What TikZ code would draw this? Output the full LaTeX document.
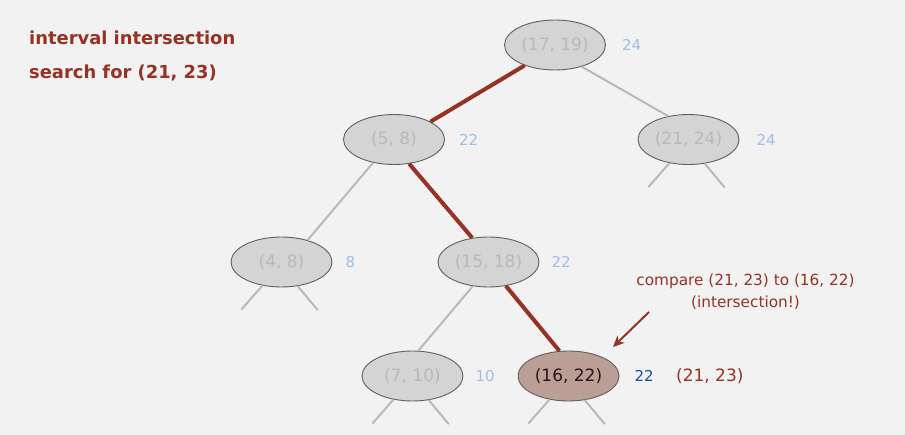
\documentclass[tikz,border=0pt]{standalone}
\usepackage{fontspec}
\setmainfont{DejaVu Sans}
\usetikzlibrary{arrows.meta,shapes.geometric,positioning}

\definecolor{bg}{RGB}{242,242,242}
\definecolor{searchred}{RGB}{150,50,35}
\definecolor{nodefill}{RGB}{212,212,212}
\definecolor{nodeedge}{RGB}{95,95,95}
\definecolor{hitfill}{RGB}{187,158,150}
\definecolor{greytext}{RGB}{185,185,185}
\definecolor{linkgrey}{RGB}{185,185,185}
\definecolor{maxpale}{RGB}{160,190,230}
\definecolor{maxdark}{RGB}{25,80,170}

\tikzset{
  tnode/.style={ellipse, draw=nodeedge, line width=0.9pt, fill=nodefill,
    minimum width=101pt, minimum height=50pt, inner sep=0pt,
    text=greytext, font=\fontsize{17}{20}\selectfont},
  hitnode/.style={tnode, fill=hitfill, text={rgb,255:red,45;green,20;blue,20}},
  maxlabel/.style={inner sep=0pt, text=maxpale, font=\fontsize{15}{18}\selectfont},
  treelink/.style={draw=linkgrey, line width=2pt},
  pathlink/.style={draw=searchred, line width=4pt},
  titletext/.style={anchor=base west, inner sep=0pt, text=searchred,
    font=\fontsize{17.9}{20}\selectfont\bfseries},
}

% two short child stubs below a node
\newcommand{\childstubs}[1]{%
  \draw[treelink] (#1.-129) -- ++(-21,24);
  \draw[treelink] (#1.-56) -- ++(20,24);
}

\begin{document}
\begin{tikzpicture}[x=1pt,y=-1pt]
  \fill[bg] (0,0) rectangle (905,435);
  \useasboundingbox (0,0) rectangle (905,435);

  % heading
  \node[titletext] (title1) at (29,45) {interval intersection};
  \node[titletext] (title2) at (29,79) {search for (21, 23)};

  % tree nodes
  \node[tnode] (n1719) at (555,45) {(17, 19)};
  \node[tnode] (n58) at (394,139.5) {(5, 8)};
  \node[tnode] (n2124) at (688.5,139.5) {(21, 24)};
  \node[tnode] (n48) at (281.5,262) {(4, 8)};
  \node[tnode] (n1518) at (488.5,262) {(15, 18)};
  \node[tnode] (n710) at (412.5,376) {(7, 10)};
  \node[hitnode] (n1622) at (568.5,376) {(16, 22)};

  % max endpoint in each subtree
  \node[maxlabel, right=16pt of n1719] (m1719) {24};
  \node[maxlabel, right=14pt of n58] (m58) {22};
  \node[maxlabel, right=17pt of n2124] (m2124) {24};
  \node[maxlabel, right=13pt of n48] (m48) {8};
  \node[maxlabel, right=12pt of n1518] (m1518) {22};
  \node[maxlabel, right=12pt of n710] (m710) {10};
  \node[maxlabel, right=15pt of n1622, text=maxdark] (m1622) {22};
  \node[inner sep=0pt, text=searchred,
    font=\fontsize{17}{20}\selectfont, right=22pt of m1622] (query) {(21, 23)};

  % tree links
  \draw[treelink] (n1719.-39) -- (n2124.131);
  \draw[treelink] (n58.-132) -- (n48.40);
  \draw[treelink] (n1518.-123) -- (n710.77);
  % search path
  \draw[pathlink] (n1719.-146) -- (n58.26);
  \draw[pathlink] (n58.-58) -- (n1518.124);
  \draw[pathlink] (n1518.-54) -- (n1622.110);

  % subtrees below
  \childstubs{n2124}
  \childstubs{n48}
  \childstubs{n710}
  \childstubs{n1622}

  % annotation
  \node[align=center, inner sep=0pt, text=searchred,
    font=\fontsize{15.3}{22}\selectfont] (note) at (745.5,292)
    {compare (21, 23) to (16, 22)\\(intersection!)};
  \coordinate (arrowtail) at (649,312);
  \coordinate (arrowtip) at (613,347);
  \draw[searchred, line width=2pt, -{Stealth[length=11pt,width=10pt,inset=3pt]}]
    (arrowtail) -- (arrowtip);
\end{tikzpicture}
\end{document}
